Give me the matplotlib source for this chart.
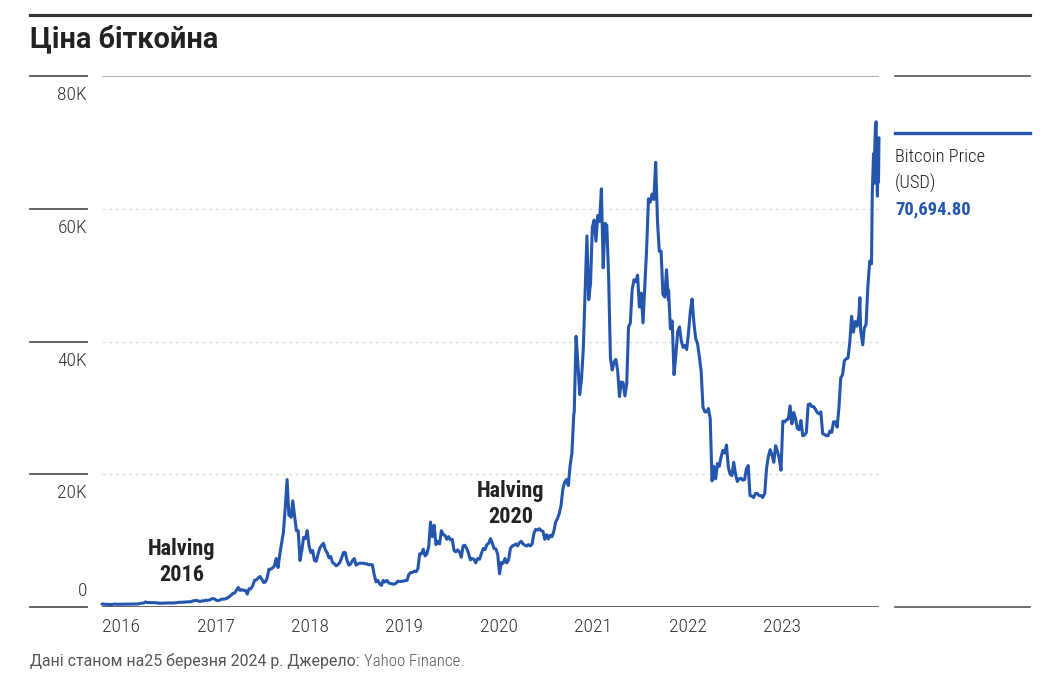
import matplotlib
matplotlib.use("Agg")
import matplotlib.pyplot as plt
import matplotlib.transforms as mtrans
from matplotlib.lines import Line2D
import pandas as pd

# ---------------- data (weekly closes, USD) ----------------
prices_2016 = [430, 450, 385, 410, 378, 375, 400, 435, 420, 410, 415, 410, 415,
               420, 420, 430, 460, 450, 460, 455, 445, 530, 575, 590, 760, 670,
               680, 650, 660, 660, 620, 590, 570, 580, 570, 600, 610, 610, 600,
               605, 610, 640, 680, 710, 710, 740, 740, 770, 775, 790, 900, 960, 965]
prices_2017 = [1000, 900, 830, 920, 920, 1030, 1000, 1050, 1180, 1270, 1200, 1000,
               960, 1080, 1180, 1180, 1240, 1350, 1550, 1750, 2050, 2100, 2500,
               2950, 2500, 2600, 2500, 2500, 1950, 2750, 2750, 3200, 4000, 4100,
               4350, 4600, 4200, 3700, 3750, 4400, 5700, 5700, 5900, 6200, 7300,
               5950, 8000, 9700, 11300, 15000, 19200, 13800, 14000]
prices_2018 = [13500, 16000, 13800, 11500, 11500, 7000, 8500, 10500, 10300, 11500,
               9200, 8200, 8500, 7000, 6900, 8000, 8900, 9300, 9600, 8600, 8200,
               7400, 7600, 6700, 6500, 6200, 6400, 6700, 7400, 8200, 8200, 7000,
               6300, 6500, 7000, 7300, 6300, 6500, 6600, 6600, 6600, 6500, 6500,
               6350, 6400, 6350, 4900, 3800, 4000, 3500, 3250, 4000, 3750]
prices_2019 = [3850, 4000, 3600, 3550, 3450, 3450, 3600, 3900, 3850, 3850, 3900,
               4000, 4000, 4900, 5200, 5200, 5400, 5300, 5750, 8000, 8000, 8700,
               7700, 8000, 9100, 12800, 10600, 12300, 9400, 9900, 9500, 11500,
               10900, 10800, 10200, 10600, 10100, 10200, 8500, 8300, 8600, 8300,
               7500, 9200, 9300, 8800, 8100, 7100, 7300, 7200, 6650, 7300, 7200]
prices_2020 = [7200, 8100, 8800, 8650, 9400, 9600, 10300, 9600, 8800, 8750, 7900,
               5000, 6700, 6600, 7300, 6650, 7100, 8800, 9200, 9300, 9500, 9200,
               9700, 9900, 9500, 9300, 9200, 9400, 9200, 9500, 11100, 11700, 11600,
               11800, 11500, 11400, 10200, 10900, 10250, 10800, 10600, 11400, 12800,
               13300, 14100, 15300, 17800, 18800, 19200, 18300, 21300, 23200, 28900]
prices_2021 = [29400, 40800, 36800, 32000, 34300, 38900, 47200, 55900, 46300, 48800,
               57200, 58300, 55100, 59000, 58100, 63000, 51100, 57800, 57500, 49700,
               37500, 35700, 36900, 37300, 35600, 31700, 33900, 33800, 31800, 33600,
               42200, 42800, 47800, 49300, 49000, 50000, 45200, 47300, 42800, 48200,
               53900, 61500, 61000, 62200, 61400, 67000, 58100, 53600, 53600, 47100,
               46700, 50800, 46300]
prices_2022 = [47700, 41900, 43100, 35000, 37900, 41400, 42200, 40100, 39100, 39400,
               38800, 41300, 44500, 46400, 42800, 40400, 39700, 37700, 35500, 30100,
               29400, 29400, 29900, 28400, 19000, 21200, 19300, 21600, 21200, 22600,
               23600, 23200, 24400, 21100, 20000, 19800, 21800, 20000, 18900, 19300,
               19400, 19100, 19200, 20800, 21300, 16800, 16700, 16500, 17100, 17100,
               16800, 16800, 16500]
prices_2023 = [16600, 17100, 20900, 22700, 23700, 22900, 21800, 24300, 23500, 22400,
               20600, 28000, 27900, 28200, 28300, 30300, 27600, 29300, 28400, 26900,
               26700, 28100, 25800, 25900, 26300, 30500, 30600, 30200, 30200, 29800,
               29300, 29100, 29400, 26100, 26000, 25800, 25800, 26500, 26300, 27900,
               27900, 27100, 30000, 34500, 35000, 37100, 37400, 37500, 39900, 43800,
               41400, 43000, 42300]
dates_2024 = ["2024-01-07", "2024-01-11", "2024-01-14", "2024-01-22", "2024-01-28",
              "2024-02-04", "2024-02-11", "2024-02-18", "2024-02-25", "2024-02-28",
              "2024-03-04", "2024-03-05", "2024-03-08", "2024-03-11", "2024-03-14",
              "2024-03-16", "2024-03-19", "2024-03-21", "2024-03-23", "2024-03-25"]
prices_2024 = [43900, 46600, 41700, 39500, 42000, 42600, 48300, 52100, 51700, 62400,
               68300, 63800, 68300, 72100, 73100, 65300, 61900, 67900, 64000, 70694.80]

y_ticks = [80000, 60000, 40000, 20000, 0]
y_labels = ["80K", "60K", "40K", "20K", "0"]
x_years = [2016, 2017, 2018, 2019, 2020, 2021, 2022, 2023]
halvings = [("Halving", "2016", "2016-11-05", 8700, 4800),
            ("Halving", "2020", "2020-05-01", 17450, 13550)]

title = "Ціна біткойна"
series_name = ["Bitcoin Price", "(USD)"]
footer_main = "Дані станом на25 березня 2024 р. Джерело:"
footer_src = "Yahoo Finance."

# ---------------- assemble series ----------------
years_lists = [(2016, prices_2016), (2017, prices_2017), (2018, prices_2018),
               (2019, prices_2019), (2020, prices_2020), (2021, prices_2021),
               (2022, prices_2022), (2023, prices_2023)]
parts = []
for yr, vals in years_lists:
    d = pd.date_range(f"{yr}-01-01", periods=len(vals), freq="7D")
    parts.append(pd.Series(vals, index=d, dtype=float))
parts.append(pd.Series(prices_2024, index=pd.to_datetime(dates_2024), dtype=float))
price = pd.concat(parts).sort_index()

# ---------------- styling ----------------
BLUE = "#2356AC"
COND = ["Roboto Condensed", "IBM Plex Sans Condensed", "DejaVu Sans"]
REG = ["Roboto", "DejaVu Sans"]

W, H = 1047, 678
fig = plt.figure(figsize=(W / 100, H / 100), dpi=100)
fig.patch.set_facecolor("white")


def fx(px):
    return px / W


def fy(py):
    return 1 - py / H


ax = fig.add_axes([fx(102), fy(607), fx(879) - fx(102), fy(76) - fy(607)])
ax.patch.set_alpha(0)
for s in ax.spines.values():
    s.set_visible(False)
ax.set_xticks([])
ax.set_yticks([])

# grid / frame lines
for v in y_ticks:
    if v == 0:
        ax.axhline(v, color="#555555", lw=1.3, zorder=1)
    elif v == max(y_ticks):
        ax.axhline(v, color="#9a9a9a", lw=1.1, zorder=1)
    else:
        ax.axhline(v, color="#dddddd", lw=1.0, ls=(0, (2.2, 2.6)), zorder=1)

# price line
ax.plot(price.index, price.values, color=BLUE, lw=2.2, solid_joinstyle="round",
        solid_capstyle="round", zorder=3, clip_on=False)

# y labels with short rules at left
lab_tr = mtrans.blended_transform_factory(fig.transFigure, ax.transData)
for v, lab in zip(y_ticks, y_labels):
    ax.add_line(Line2D([fx(30), fx(87)], [v, v], transform=lab_tr, color="#555555",
                       lw=1.3, clip_on=False))
    off = -19 if v > 0 else 16
    tr = lab_tr + mtrans.ScaledTranslation(0, off / 100, fig.dpi_scale_trans)
    ax.text(fx(87), v, lab, transform=tr, ha="right", va="center", fontsize=14,
            family=COND, weight="light", color="#333333")

# x labels (left aligned at 1 January)
xtr = ax.get_xaxis_transform() + mtrans.ScaledTranslation(0, -20 / 100, fig.dpi_scale_trans)
for yr in x_years:
    ax.text(pd.Timestamp(f"{yr}-01-01"), 0, str(yr), transform=xtr, ha="left",
            va="center", fontsize=14, family=COND, weight="light", color="#333333")

# halving annotations
for l1, l2, d, y1, y2 in halvings:
    ax.text(pd.Timestamp(d), y1, l1, ha="center", va="center", fontsize=16,
            family=COND, weight="bold", color="#222222")
    ax.text(pd.Timestamp(d), y2, l2, ha="center", va="center", fontsize=16,
            family=COND, weight="bold", color="#222222")

ax.set_xlim(pd.Timestamp("2016-01-01"), pd.Timestamp("2024-03-25"))
ax.set_ylim(0, 80000)

# top rule and title
fig.add_artist(Line2D([fx(30), fx(1030)], [fy(15), fy(15)], transform=fig.transFigure,
                      color="#333333", lw=2.3))
fig.text(fx(30), fy(47.5), title, ha="left", va="baseline", fontsize=20.8,
         family=REG, weight="bold", color="#222222")

# right-hand legend panel
fig.add_artist(Line2D([fx(895), fx(1030)], [fy(76), fy(76)], transform=fig.transFigure,
                      color="#555555", lw=1.2))
fig.add_artist(Line2D([fx(895), fx(1030)], [fy(133), fy(133)], transform=fig.transFigure,
                      color=BLUE, lw=2.4))
fig.add_artist(Line2D([fx(895), fx(1030)], [fy(607), fy(607)], transform=fig.transFigure,
                      color="#555555", lw=1.2))
fig.text(fx(895), fy(157), series_name[0], ha="left", va="center", fontsize=13.3,
         family=COND, weight="light", color="#222222")
fig.text(fx(895), fy(183), series_name[1], ha="left", va="center", fontsize=13.3,
         family=COND, weight="light", color="#222222")
fig.text(fx(895), fy(209), f"{price.iloc[-1]:,.2f}", ha="left", va="center",
         fontsize=13.3, family=COND, weight="bold", color=BLUE)

# footer
t1 = fig.text(fx(30), fy(666), footer_main, ha="left", va="baseline", fontsize=11.4,
              family=REG, color="#555555")
fig.canvas.draw()
bb = t1.get_window_extent(renderer=fig.canvas.get_renderer())
fig.text(fx(bb.x1 + 5), fy(666), footer_src, ha="left", va="baseline", fontsize=12.2,
         family=COND, weight="light", color="#555555")

fig.savefig("out.png", dpi=100, facecolor="white")
